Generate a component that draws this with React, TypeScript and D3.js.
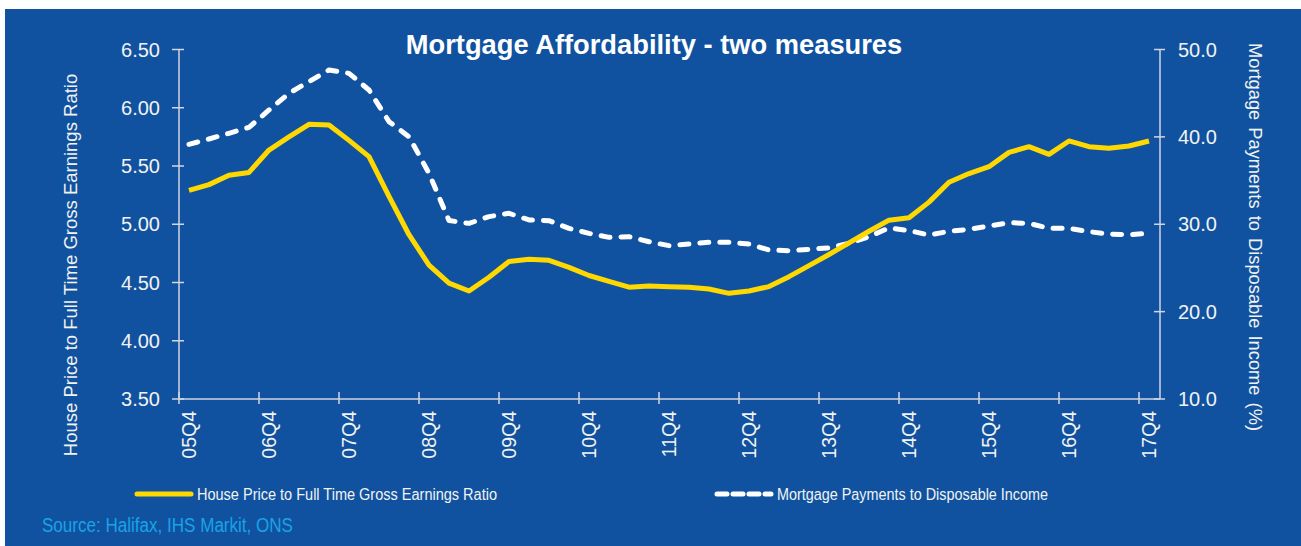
import React from "react";
import * as d3 from "d3";

const quarters: string[] = (() => {
  const out: string[] = [];
  out.push("05Q4");
  for (let y = 6; y <= 17; y++) {
    for (let q = 1; q <= 4; q++) out.push(`${String(y).padStart(2, "0")}Q${q}`);
  }
  return out;
})();

const houseRatio: number[] = [
  5.29, 5.34, 5.42, 5.445, 5.637, 5.75, 5.858, 5.852, 5.72, 5.58,
  5.24, 4.91, 4.65, 4.495, 4.427, 4.545, 4.68, 4.70, 4.69, 4.63,
  4.56, 4.51, 4.46, 4.47, 4.464, 4.46, 4.444, 4.407, 4.427, 4.465,
  4.55, 4.645, 4.74, 4.84, 4.94, 5.035, 5.056, 5.19, 5.36, 5.435,
  5.494, 5.617, 5.666, 5.60, 5.715, 5.666, 5.652, 5.672, 5.715,
];

const mortgagePayments: number[] = [
  39.15, 39.76, 40.41, 41.09, 43.08, 44.99, 46.32, 47.65, 47.27, 45.37,
  41.74, 40.02, 35.83, 30.43, 30.1, 30.87, 31.25, 30.49, 30.41, 29.53,
  28.96, 28.5, 28.58, 28.0, 27.55, 27.74, 27.93, 27.93, 27.74, 27.05,
  26.97, 27.13, 27.3, 27.82, 28.58, 29.58, 29.28, 28.77, 29.19, 29.42,
  29.8, 30.18, 30.1, 29.53, 29.53, 29.15, 28.88, 28.8, 28.96,
];

const leftTicks: number[] = [3.5, 4.0, 4.5, 5.0, 5.5, 6.0, 6.5];
const rightTicks: number[] = [10, 20, 30, 40, 50];

const FONT = "'Liberation Sans', Arial, Helvetica, sans-serif";
const BG = "#1052A0";
const YELLOW = "#FFD800";
const AXIS = "#D0D6E2";
const LABEL = "#F2F2F2";

export default function App() {
  const W = 1301;
  const H = 546;
  const x0 = 179;
  const x1 = 1159;
  const yTop = 49.5;
  const yBot = 399;

  const x = d3.scaleBand<string>().domain(quarters).range([x0, x1]).padding(0);
  const cx = (q: string) => (x(q) as number) + x.bandwidth() / 2;
  const yL = d3.scaleLinear().domain([3.5, 6.5]).range([yBot, yTop]);
  const yR = d3.scaleLinear().domain([10, 50]).range([yBot, yTop]);

  const lineL = d3
    .line<number>()
    .x((_, i) => cx(quarters[i]))
    .y((d) => yL(d))
    .curve(d3.curveLinear);
  const lineR = d3
    .line<number>()
    .x((_, i) => cx(quarters[i]))
    .y((d) => yR(d))
    .curve(d3.curveLinear);

  const labelled = quarters.filter((_, i) => i % 4 === 0);

  return (
    <svg
      width={W}
      height={H}
      style={{ position: "absolute", left: 0, top: 0, display: "block" }}
      fontFamily={FONT}
    >
      <rect x={0} y={0} width={W} height={H} fill="#ffffff" />
      <rect x={5} y={9} width={W - 5} height={H - 9} fill={BG} />

      <text
        x={654}
        y={54}
        textAnchor="middle"
        fill="#ffffff"
        fontSize={27.3}
        fontWeight="bold"
      >
        Mortgage Affordability - two measures
      </text>

      {/* left axis */}
      <line x1={x0} x2={x0} y1={yTop} y2={yBot} stroke={AXIS} strokeWidth={1.5} />
      {leftTicks.map((t) => (
        <g key={"l" + t}>
          <line x1={x0 - 7} x2={x0 + 5} y1={yL(t)} y2={yL(t)} stroke={AXIS} strokeWidth={1.5} />
          <text
            x={160}
            y={yL(t)}
            dy="0.36em"
            textAnchor="end"
            fill={LABEL}
            fontSize={20}
          >
            {t.toFixed(2)}
          </text>
        </g>
      ))}

      {/* right axis */}
      <line x1={x1 + 1} x2={x1 + 1} y1={yTop} y2={yBot} stroke={AXIS} strokeWidth={1.5} />
      {rightTicks.map((t) => (
        <g key={"r" + t}>
          <line x1={x1 - 5} x2={x1 + 6} y1={yR(t)} y2={yR(t)} stroke={AXIS} strokeWidth={1.5} />
          <text x={1178} y={yR(t)} dy="0.36em" textAnchor="start" fill={LABEL} fontSize={20}>
            {t.toFixed(1)}
          </text>
        </g>
      ))}

      {/* x axis */}
      <line x1={x0} x2={x1 + 1} y1={yBot} y2={yBot} stroke={AXIS} strokeWidth={1.5} />
      {labelled.map((q) => {
        const bx = x(q) as number;
        const c = cx(q);
        return (
          <g key={q}>
            <line x1={bx} x2={bx} y1={yBot - 7} y2={yBot + 5} stroke={AXIS} strokeWidth={1.5} />
            <text
              x={c}
              y={411}
              dy="0.36em"
              textAnchor="end"
              fill={LABEL}
              fontSize={19.5}
              transform={`rotate(-90, ${c}, 411)`}
            >
              {q}
            </text>
          </g>
        );
      })}

      {/* axis titles */}
      <text
        x={70}
        y={265}
        dy="0.36em"
        textAnchor="middle"
        fill={LABEL}
        fontSize={18.5}
        transform="rotate(-90, 70, 265)"
      >
        House Price to Full Time Gross Earnings Ratio
      </text>
      <text
        x={1256}
        y={237}
        dy="0.36em"
        textAnchor="middle"
        fill={LABEL}
        fontSize={18.3}
        wordSpacing={2}
        transform="rotate(90, 1256, 237)"
      >
        Mortgage Payments to Disposable Income (%)
      </text>

      {/* series */}
      <path
        d={lineR(mortgagePayments) || ""}
        fill="none"
        stroke="#ffffff"
        strokeWidth={5}
        strokeDasharray="9 11"
        strokeLinecap="round"
        strokeLinejoin="round"
      />
      <path
        d={lineL(houseRatio) || ""}
        fill="none"
        stroke={YELLOW}
        strokeWidth={5}
        strokeLinejoin="round"
      />

      {/* legend */}
      <line x1={137} x2={191} y1={494} y2={494} stroke={YELLOW} strokeWidth={5} strokeLinecap="round" />
      <text x={197} y={500} fill={LABEL} fontSize={16} textLength={300} lengthAdjust="spacingAndGlyphs">
        House Price to Full Time Gross Earnings Ratio
      </text>
      <line
        x1={717}
        x2={771}
        y1={494}
        y2={494}
        stroke="#ffffff"
        strokeWidth={5}
        strokeDasharray="10 6"
        strokeLinecap="round"
      />
      <text x={777} y={500} fill={LABEL} fontSize={16} textLength={271} lengthAdjust="spacingAndGlyphs">
        Mortgage Payments to Disposable Income
      </text>

      <text x={42} y={532} fill="#19A3E6" fontSize={20} textLength={251} lengthAdjust="spacingAndGlyphs">
        Source: Halifax, IHS Markit, ONS
      </text>
    </svg>
  );
}
